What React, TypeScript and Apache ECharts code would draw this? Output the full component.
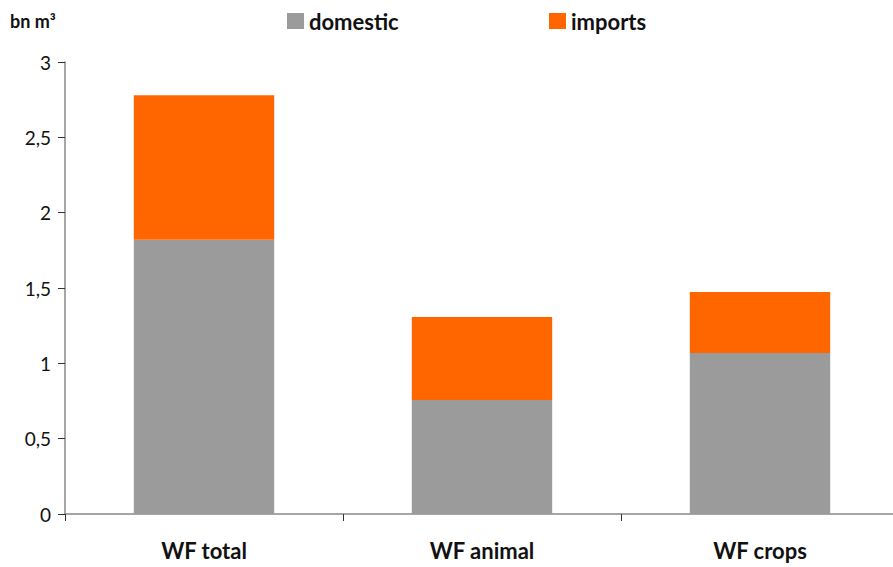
import React, { useEffect, useRef } from "react";
import * as echarts from "echarts";

const categories = ["WF total", "WF animal", "WF crops"];
const domestic = [1.82, 0.757, 1.068];
const imports = [0.96, 0.55, 0.405];
const yTicks = [0, 0.5, 1, 1.5, 2, 2.5, 3];

const FONT = "Lato";

export default function App() {
  const ref = useRef<HTMLDivElement>(null);
  useEffect(() => {
    document.body.style.margin = "0";
    document.body.style.overflow = "hidden";
    const chart = echarts.init(ref.current!, null, { renderer: "svg" });
    const legendText = { fontSize: 22, fontWeight: "bold", color: "#111", fontFamily: FONT };
    chart.setOption({
      animation: false,
      textStyle: { fontFamily: FONT },
      graphic: [
        {
          type: "text",
          left: 10,
          top: 12,
          style: { text: "bn m³", font: `bold 18px ${FONT}`, fill: "#111" },
        },
      ],
      legend: [
        {
          left: 287,
          top: 10,
          padding: 0,
          itemWidth: 17,
          itemHeight: 16,
          itemGap: 0,
          icon: "rect",
          data: ["domestic"],
          textStyle: legendText,
        },
        {
          left: 549,
          top: 10,
          padding: 0,
          itemWidth: 17,
          itemHeight: 16,
          itemGap: 0,
          icon: "rect",
          data: ["imports"],
          textStyle: legendText,
        },
      ],
      grid: { left: 65, right: 0, top: 62, bottom: 53, containLabel: false },
      xAxis: {
        type: "category",
        data: categories,
        axisLine: { lineStyle: { color: "#888", width: 1.5 } },
        axisTick: { show: true, length: 7, lineStyle: { color: "#333" }, alignWithLabel: false },
        axisLabel: { fontSize: 22, fontWeight: "bold", color: "#111", margin: 25, fontFamily: FONT },
      },
      yAxis: {
        type: "value",
        min: 0,
        max: 3,
        interval: 0.5,
        splitLine: { show: false },
        axisLine: { show: true, lineStyle: { color: "#888", width: 1.5 } },
        axisTick: { show: true, length: 7, lineStyle: { color: "#333" } },
        axisLabel: {
          fontSize: 19,
          color: "#111",
          margin: 14,
          fontFamily: FONT,
          formatter: (v: number) => (yTicks.includes(v) ? String(v).replace(".", ",") : ""),
        },
      },
      series: [
        {
          name: "domestic",
          type: "bar",
          stack: "wf",
          data: domestic,
          barWidth: "50.5%",
          itemStyle: { color: "#9b9b9b" },
        },
        {
          name: "imports",
          type: "bar",
          stack: "wf",
          data: imports,
          barWidth: "50.5%",
          itemStyle: { color: "#ff6600" },
        },
      ],
    });
    return () => chart.dispose();
  }, []);
  return (
    <div style={{ width: 893, height: 567, overflow: "hidden" }}>
      <div ref={ref} style={{ width: 899, height: 567 }} />
    </div>
  );
}
